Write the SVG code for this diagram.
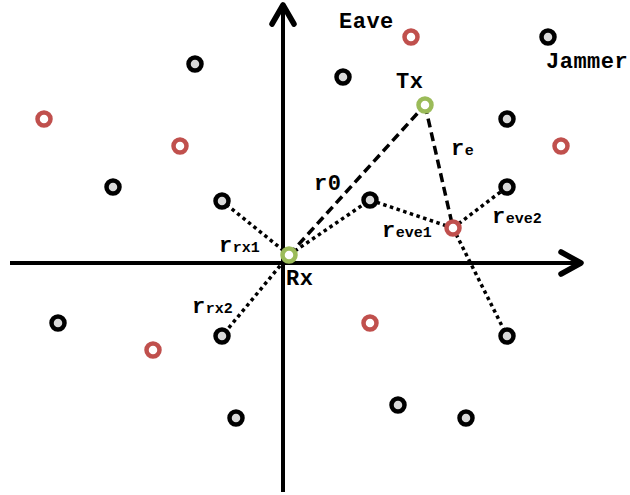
<svg xmlns="http://www.w3.org/2000/svg" width="630" height="495" viewBox="0 0 630 495">
<style>
.axis{stroke:#000;stroke-width:4;fill:none}
.head{stroke:#000;stroke-width:5.5;fill:none;stroke-linecap:round;stroke-linejoin:round}
.dash{stroke:#000;stroke-width:3.5;stroke-dasharray:9 5;fill:none}
.dot{stroke:#000;stroke-width:3.5;stroke-dasharray:3.5 3.5;fill:none}
.blk{fill:#d9d9d9;stroke:#000;stroke-width:4.5}
.red{fill:#fff;stroke:#c0504d;stroke-width:4.5}
.grn{fill:#fff;stroke:#9bbb59;stroke-width:4.5}
text{font-family:"Liberation Mono","Courier New",monospace;font-weight:bold;font-size:22px;letter-spacing:0.5px;fill:#000}
.s{font-size:15px;letter-spacing:0}
</style>
<rect width="630" height="495" fill="#fff"/>
<g id="axes">
<line class="axis" x1="10" y1="263" x2="580" y2="263"/>
<polyline class="head" points="561,252 581,263 561,274"/>
<line class="axis" x1="283" y1="492" x2="283" y2="6"/>
<polyline class="head" points="272,24 283,5 294,24"/>
</g>
<g id="connectors">
<line class="dash" x1="289" y1="255" x2="425" y2="105"/>
<line class="dash" x1="425" y1="105" x2="453" y2="228"/>
<line class="dot" x1="289" y1="255" x2="222" y2="201"/>
<line class="dot" x1="289" y1="255" x2="222" y2="336"/>
<line class="dot" x1="289" y1="255" x2="370" y2="200"/>
<line class="dot" x1="370" y1="200" x2="453" y2="228"/>
<line class="dot" x1="453" y1="228" x2="507" y2="187"/>
<line class="dot" x1="453" y1="228" x2="507" y2="336"/>
</g>
<g id="jammers">
<circle class="blk" cx="195" cy="64" r="6.5"/>
<circle class="blk" cx="343" cy="77" r="6.5"/>
<circle class="blk" cx="548" cy="37" r="6.5"/>
<circle class="blk" cx="507" cy="119" r="6.5"/>
<circle class="blk" cx="113" cy="187" r="6.5"/>
<circle class="blk" cx="222" cy="201" r="6.5"/>
<circle class="blk" cx="370" cy="200" r="6.5"/>
<circle class="blk" cx="507" cy="187" r="6.5"/>
<circle class="blk" cx="58" cy="323" r="6.5"/>
<circle class="blk" cx="222" cy="336" r="6.5"/>
<circle class="blk" cx="507" cy="336" r="6.5"/>
<circle class="blk" cx="236" cy="418" r="6.5"/>
<circle class="blk" cx="398" cy="405" r="6.5"/>
<circle class="blk" cx="466" cy="418" r="6.5"/>
</g>
<g id="eaves">
<circle class="red" cx="411" cy="37" r="6.5"/>
<circle class="red" cx="44" cy="119" r="6.5"/>
<circle class="red" cx="180" cy="146" r="6.5"/>
<circle class="red" cx="561" cy="146" r="6.5"/>
<circle class="red" cx="453" cy="228" r="6.5"/>
<circle class="red" cx="370" cy="323" r="6.5"/>
<circle class="red" cx="153" cy="350" r="6.5"/>
</g>
<g id="Tx"><circle class="grn" cx="425" cy="105" r="6.5"/><text x="396" y="88">Tx</text></g>
<g id="Rx"><circle class="grn" cx="289" cy="255" r="6.5"/><text x="286" y="285">Rx</text></g>
<g id="labels">
<text x="339" y="28">Eave</text>
<text x="546" y="68">Jammer</text>
<text x="314" y="190">r0</text>
<text x="451" y="155">r<tspan class="s">e</tspan></text>
<text x="219" y="252">r<tspan class="s">rx1</tspan></text>
<text x="192" y="313">r<tspan class="s">rx2</tspan></text>
<text x="382" y="237">r<tspan class="s">eve1</tspan></text>
<text x="492" y="223">r<tspan class="s">eve2</tspan></text>
</g>
</svg>
